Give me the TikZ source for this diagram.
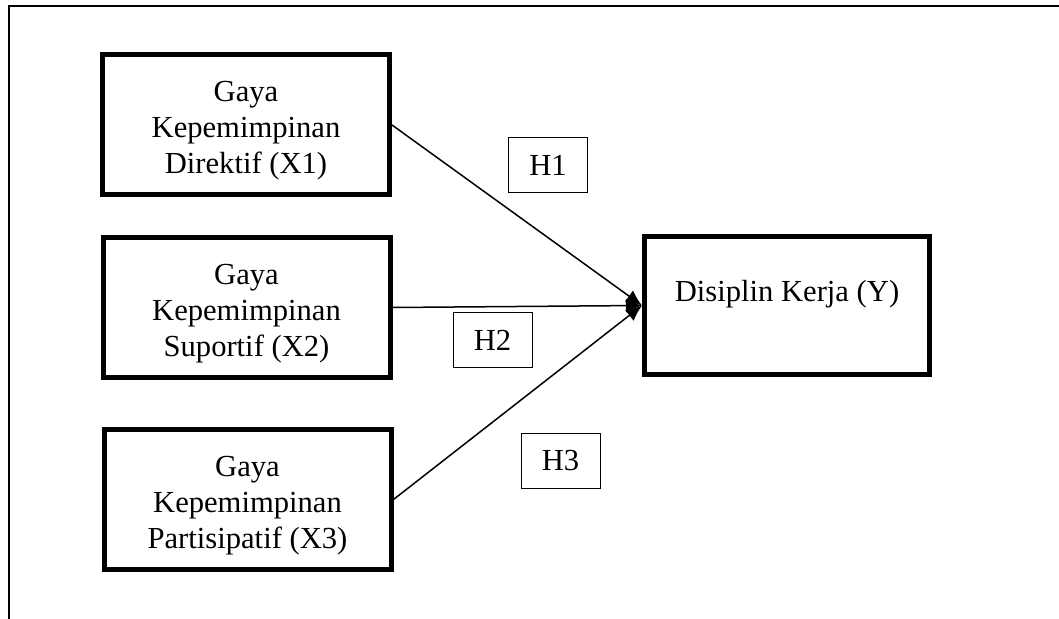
\documentclass[tikz,border=0pt]{standalone}
\usepackage{fontspec}
\setmainfont{Liberation Serif}
\usetikzlibrary{arrows.meta, positioning}
\definecolor{fwInk}{HTML}{000000}
\newcommand{\topstrut}{\rule{0pt}{16pt}}
\tikzset{
  varbox/.style={
    draw=fwInk, line width=2.5pt, fill=white, align=center,
    font=\fontsize{15.3}{18}\selectfont, text=fwInk,
    minimum width=143.5pt, minimum height=70pt, inner sep=0pt
  },
  ybox/.style={varbox, minimum width=142.5pt, minimum height=69pt,
    text height=10pt, text depth=13.5pt},
  hbox/.style={
    draw=fwInk, line width=0.5pt, fill=white,
    font=\fontsize{15.3}{18}\selectfont, text=fwInk,
    minimum width=39.5pt, minimum height=27.5pt, inner sep=0pt
  },
  path/.style={-{Latex[length=8pt, width=7pt]}, line width=0.75pt, draw=fwInk},
  frame/.style={line width=1pt, draw=fwInk},
}
\begin{document}
\begin{tikzpicture}[x=0.5pt, y=-0.5pt]
  \useasboundingbox (0,0) rectangle (1059,619);
  % outer frame (top and left edge only)
  \coordinate (fr) at (1059,6);
  \coordinate (fc) at (9,6);
  \coordinate (fb) at (9,619);
  \draw[frame] (fr) -- (fc) -- (fb);

  \node[varbox] (x1) at (246,125)   {\topstrut Gaya\\Kepemimpinan\\Direktif (X1)};
  \node[varbox] (x2) at (246.5,307.5) {\topstrut Gaya\\Kepemimpinan\\Suportif (X2)};
  \node[varbox] (x3) at (247.5,499.5) {\topstrut Gaya\\Kepemimpinan\\Partisipatif (X3)};
  \node[ybox]   (y)  at (787,305.5) {Disiplin Kerja (Y)};

  \draw[path] (x1.east) -- (y.west);
  \draw[path] (x2.east) -- (y.west);
  \draw[path] (x3.east) -- (y.west);

  \node[hbox] (h1) at (548,165)   {H1};
  \node[hbox] (h2) at (492.5,340.5) {H2};
  \node[hbox] (h3) at (560.5,461) {H3};
\end{tikzpicture}
\end{document}
